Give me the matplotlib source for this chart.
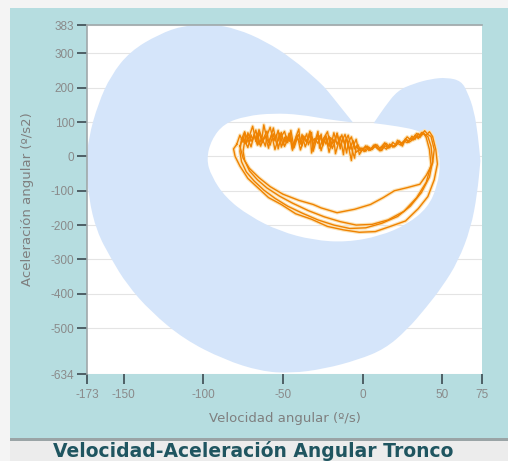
import matplotlib
matplotlib.use('agg')
import matplotlib.pyplot as plt
from matplotlib.patches import PathPatch, Rectangle
from matplotlib.path import Path

# axis ticks
x_ticks = [-173, -150, -100, -50, 0, 50, 75]
y_ticks = [383, 300, 200, 100, 0, -100, -200, -300, -400, -500, -634]

# reference area (crescent with the inner hole)
area_x = [-6, -6, -22, -39, -56, -73, -87, -95, -98, -95, -86, -71, -52, -31, -10, 11, 28, 41, 47, 49, 46, 36, 22, 7, 7,
          14, 22, 32, 43, 53, 62, 66, 70, 72.5, 74, 74, 72, 68, 60, 50, 40, 28, 14,
          -3, -24, -45, -64, -87, -112, -133, -148, -158, -167, -172, -173.5, -172, -166, -158, -146, -128, -112, -95,
          -79, -61, -44, -27, -22, -14]
area_y = [99, 99, 108, 122, 126, 118, 96, 48, -8, -57, -120, -174, -218, -244, -250, -232, -198, -149, -86, -17, 41, 75, 88, 97, 97,
          145, 192, 212, 226, 230, 220, 186, 134, 60, -13, -13, -110, -209, -306, -380, -440, -505, -561,
          -593, -619, -632, -626, -592, -533, -452, -373, -297, -218, -120, -22, 55, 154, 236, 306, 356, 382, 386,
          372, 336, 285, 217, 192, 145]

# trunk loops (velocity, acceleration): noisy upper edge, then right end and lower return
loop1_x = ([-79, -77, -75, -74, -72, -70, -68, -67, -65, -63, -61, -60, -58, -56, -54, -53, -51, -49, -47, -46, -44, -42,
            -40, -39, -37, -35, -33, -32, -30, -28, -26, -25, -23, -21, -19, -18, -16, -14, -12, -11, -9, -7, -5, -4]
           + [-2, 0, 2, 4, 6, 8, 10, 12, 14, 16, 18, 20, 22, 24, 26, 28, 30, 32, 34, 36, 38, 40, 42, 44]
           + [46, 47, 45, 41, 35, 27, 18, 8, -2, -12, -22, -32, -42, -51, -59, -66, -72, -77, -80, -81, -79])
loop1_y = ([35, 62, 41, 70, 50, 28, 66, 44, 78, 52, 30, 61, 85, 47, 64, 22, 58, 73, 40, 66, 18, 55,
            80, 36, 60, 45, 71, 10, 52, 38, 65, 30, 57, 12, 48, 69, 35, 58, 5, 44, 62, 25, -5, 30]
           + [18, 24, 15, 27, 20, 30, 22, 17, 31, 25, 34, 28, 38, 33, 45, 40, 52, 48, 60, 55, 68, 62, 72, 58]
           + [20, -22, -68, -117, -152, -188, -203, -219, -221, -214, -204, -183, -167, -140, -120, -90, -64, -28, 0, 22, 35])

loop2_x = ([-76, -74, -73, -71, -69, -67, -66, -64, -62, -60, -59, -57, -55, -53, -52, -50, -48, -46, -45, -43, -41,
            -39, -38, -36, -34, -32, -31, -29, -27, -25, -24, -22, -20, -18, -17, -15, -13, -11, -10, -8, -6, -4]
           + [-1, 1, 3, 5, 7, 9, 11, 13, 15, 17, 19, 21, 23, 25, 27, 29, 31, 33, 35, 37, 39, 41]
           + [43, 44, 42, 37, 30, 22, 12, 2, -8, -18, -28, -38, -47, -55, -62, -68, -73, -76, -77, -76])
loop2_y = ([50, 72, 38, 60, 88, 46, 67, 30, 55, 74, 42, 63, 20, 50, 68, 33, 59, 44, 76, 25, 53,
            39, 64, 28, 51, 70, 15, 47, 60, 36, 56, 72, 26, 49, 8, 41, 63, 30, 54, 20, 47, 12]
           + [25, 14, 29, 19, 33, 24, 16, 28, 21, 36, 27, 32, 44, 30, 50, 41, 47, 62, 52, 70, 63, 58]
           + [30, -15, -60, -105, -145, -175, -195, -208, -210, -200, -185, -165, -145, -122, -98, -72, -45, -15, 15, 50])

loop3_x = ([-74, -72, -70, -69, -67, -65, -63, -62, -60, -58, -56, -55, -53, -51, -49, -48, -46, -44, -42, -41, -39,
            -37, -35, -34, -32, -30, -28, -27, -25, -23, -21, -20, -18, -16, -14, -13, -11, -9, -7, -6, -4, -2]
           + [0, 2, 4, 6, 8, 10, 12, 14, 16, 18, 20, 22, 24, 26, 28, 30, 32, 34, 36, 38, 40]
           + [42, 43, 40, 34, 26, 16, 6, -4, -14, -24, -34, -44, -52, -60, -66, -71, -74, -75, -74])
loop3_y = ([45, 26, 63, 48, 77, 34, 58, 92, 50, 33, 66, 45, 76, 27, 56, 40, 68, 31, 52, 62, 19,
            46, 66, 34, 58, 42, 73, 24, 50, 61, 29, 55, 40, 67, 22, 45, 64, 33, -12, 28, 50, 6]
           + [20, 31, 17, 26, 35, 22, 29, 40, 24, 35, 29, 47, 38, 44, 57, 49, 55, 67, 60, 71, 55]
           + [20, -25, -75, -120, -160, -185, -198, -200, -190, -176, -158, -136, -116, -92, -68, -42, -12, 15, 45])

loop4_x = ([-77, -75, -73, -72, -70, -68, -66, -65, -63, -61, -59, -58, -56, -54, -52, -51, -49, -47, -45, -44, -42,
            -40, -38, -37, -35, -33, -31, -30, -28, -26, -24, -23, -21, -19, -17, -16, -14, -12, -10, -9, -7, -5, -3]
           + [-1, 1, 3, 5, 7, 9, 11, 13, 15, 17, 19, 21, 23, 25, 27, 29, 31, 33, 35, 37, 39, 41, 43]
           + [45, 44, 40, 36, 28, 20, 13, 5, -5, -16, -26, -31, -40, -50, -58, -65, -71, -75, -77])
loop4_y = ([30, 57, 36, 69, 44, 62, 33, 71, 40, 59, 24, 51, 83, 37, 56, 70, 29, 49, 60, 21, 47,
            64, 31, 54, 40, 74, 28, 45, 62, 17, 50, 36, 59, 23, 46, 68, 30, 53, 10, 41, 57, 22, 35]
           + [15, 24, 30, 18, 27, 34, 23, 30, 38, 25, 41, 33, 45, 36, 52, 44, 59, 50, 66, 61, 75, 64, 58]
           + [20, -20, -55, -81, -91, -100, -120, -140, -154, -164, -150, -140, -128, -110, -88, -62, -35, -5, 30])

loops = [(loop1_x, loop1_y), (loop2_x, loop2_y), (loop3_x, loop3_y), (loop4_x, loop4_y)]

fig = plt.figure(figsize=(5.08, 4.61), dpi=100, facecolor='#f4f4f4')

# panel backgrounds (behind the axes)
bg = [((10, 23), 498, 430, '#b6dde0'),
      ((10, 0), 498, 21, '#ececec'),
      ((10, 20), 498, 3, '#9aa4a6')]
for (x0, y0), w, h, c in bg:
    fig.add_artist(Rectangle((x0 / 508, y0 / 461), w / 508, h / 461, transform=fig.transFigure,
                             facecolor=c, edgecolor='none', zorder=-5))

ax = fig.add_axes([87 / 508, 1 - 374 / 461, (482 - 87) / 508, (374 - 25) / 461])
ax.set_zorder(2)
ax.set_facecolor('white')

# smooth outline: traced points used as quadratic spline controls
pts = list(zip(area_x, area_y))
n = len(pts)
mids = [((pts[i][0] + pts[(i + 1) % n][0]) / 2, (pts[i][1] + pts[(i + 1) % n][1]) / 2) for i in range(n)]
verts = [mids[-1]]
codes = [Path.MOVETO]
for i in range(n):
    verts += [pts[i], mids[i]]
    codes += [Path.CURVE3, Path.CURVE3]
verts.append(mids[-1])
codes.append(Path.CLOSEPOLY)
ax.add_patch(PathPatch(Path(verts, codes), facecolor='#d5e5fa', edgecolor='none', zorder=1))

for lx, ly in loops:
    ax.plot(lx, ly, color='#fbe3b8', linewidth=2.6, solid_joinstyle='round', zorder=2)
for lx, ly in loops:
    ax.plot(lx, ly, color='#ef8200', linewidth=1.0, zorder=3)

ax.set_xlim(-173, 75)
ax.set_ylim(-634, 383)
ax.set_xticks(x_ticks)
ax.set_yticks(y_ticks)
ax.set_xticklabels([str(v) for v in x_ticks])
ax.set_yticklabels([str(v) for v in y_ticks])

ax.grid(True, axis='y', color='#e4e4e4', linewidth=0.8, zorder=0)
ax.set_axisbelow(True)

for side in ['right', 'bottom']:
    ax.spines[side].set_visible(False)
for side in ['left', 'top']:
    ax.spines[side].set_color('#a0a8aa')
    ax.spines[side].set_linewidth(1.2)

ax.tick_params(axis='both', direction='out', length=7, width=1.2, color='#3c4a50',
               labelcolor='#8a8a8a', labelsize=8.5, pad=2)
ax.tick_params(axis='x', pad=4)
for lab in ax.get_xticklabels() + ax.get_yticklabels():
    lab.set_family('Liberation Sans')

ax.set_xlabel('Velocidad angular (º/s)', color='#7f7f7f', fontsize=9.5, labelpad=8)
ax.set_ylabel('Aceleración angular (º/s2)', color='#7f7f7f', fontsize=9.5, labelpad=12)

fig.text(253 / 508, 10 / 461, 'Velocidad-Aceleración Angular Tronco', ha='center', va='center',
         fontsize=13.5, fontweight='bold', color='#1f5560')

fig.savefig('out.png', dpi=100, facecolor=fig.get_facecolor())
